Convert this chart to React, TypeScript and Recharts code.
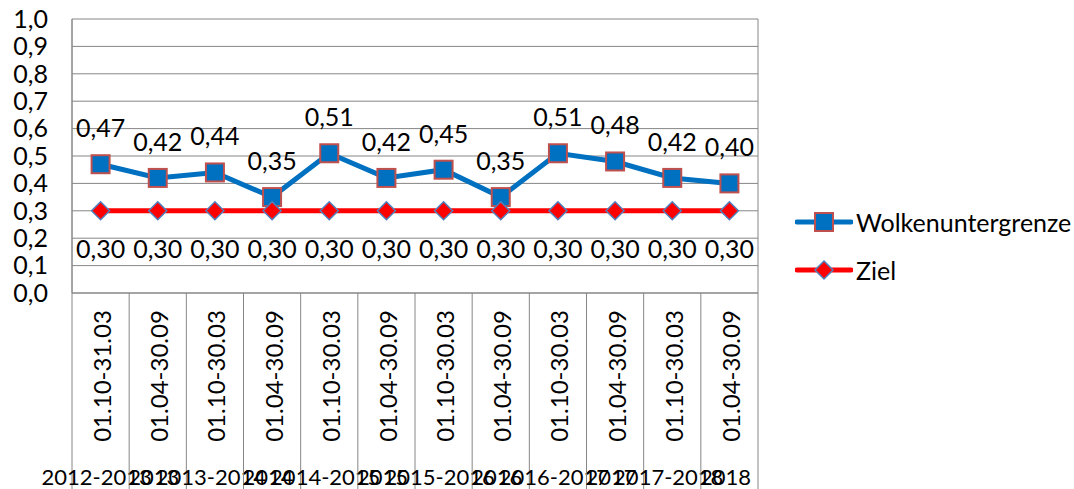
import React from 'react';
import { LineChart, Line, XAxis, YAxis, CartesianGrid, Legend, LabelList } from 'recharts';

const CATEGORIES = [
  '01.10-31.03', '01.04-30.09', '01.10-30.03', '01.04-30.09', '01.10-30.03', '01.04-30.09',
  '01.10-30.03', '01.04-30.09', '01.10-30.03', '01.04-30.09', '01.10-30.03', '01.04-30.09',
];
const SEASONS = [
  '2012-2013', '2013', '2013-2014', '2014', '2014-2015', '2015',
  '2015-2016', '2016', '2016-2017', '2017', '2017-2018', '2018',
];
const WOLKEN = [0.47, 0.42, 0.44, 0.35, 0.51, 0.42, 0.45, 0.35, 0.51, 0.48, 0.42, 0.40];
const ZIEL = [0.3, 0.3, 0.3, 0.3, 0.3, 0.3, 0.3, 0.3, 0.3, 0.3, 0.3, 0.3];
const Y_TICKS = [0, 0.1, 0.2, 0.3, 0.4, 0.5, 0.6, 0.7, 0.8, 0.9, 1.0];

const W = 1074;
const H = 489;
const MARGIN = { top: 19, right: 316, left: 0, bottom: 0 };
const Y_W = 72;
const X_H = 196;
const BAND = (W - MARGIN.right - Y_W) / CATEGORIES.length;
const GRID = '#868686';
const BLUE = '#0070C0';
const RED = '#FF0000';
const FONT = 'Lato, "Open Sans", sans-serif';

const data = CATEGORIES.map((c, i) => ({
  name: c,
  season: SEASONS[i],
  wolken: WOLKEN[i],
  ziel: ZIEL[i],
}));

const fmt = (v: number, d: number) => v.toFixed(d).replace('.', ',');

const CategoryTick = (props: any) => {
  const { x, y, payload, index } = props;
  const left = x - BAND / 2;
  return (
    <g>
      <line x1={left} y1={y} x2={left} y2={H} stroke={GRID} strokeWidth={1} />
      {index === CATEGORIES.length - 1 && (
        <line x1={x + BAND / 2} y1={y} x2={x + BAND / 2} y2={H} stroke={GRID} strokeWidth={1} />
      )}
      <text
        transform={`translate(${x + 1},${y + 83}) rotate(-90)`}
        textAnchor="middle"
        dominantBaseline="central"
        fontSize={24}
        fill="#000"
      >
        {payload.value}
      </text>
      <text x={x - 4} y={y + 183} textAnchor="middle" dominantBaseline="central" fontSize={22} fill="#000">
        {SEASONS[index]}
      </text>
    </g>
  );
};

const SquareDot = (props: any) => {
  const { cx, cy, index } = props;
  if (cx == null || cy == null) return null;
  return <rect key={`sq-${index}`} x={cx - 9} y={cy - 9} width={18} height={18} fill={BLUE} stroke="#C0504D" strokeWidth={2} />;
};

const DiamondDot = (props: any) => {
  const { cx, cy, index } = props;
  if (cx == null || cy == null) return null;
  const r = 9;
  return (
    <polygon
      key={`dm-${index}`}
      points={`${cx},${cy - r} ${cx + r},${cy} ${cx},${cy + r} ${cx - r},${cy}`}
      fill={RED}
      stroke="#4F81BD"
      strokeWidth={1.5}
    />
  );
};

const makeLabel = (dy: number) => (props: any) => {
  const { x, y, value, index } = props;
  return (
    <text key={`lb-${dy}-${index}`} x={x} y={y + dy} textAnchor="middle" dominantBaseline="central" fontSize={25} fill="#000">
      {fmt(Number(value), 2)}
    </text>
  );
};

const renderLegend = (props: any) => {
  const { payload } = props;
  return (
    <div style={{ fontFamily: FONT, fontSize: 25, color: '#000' }}>
      {(payload || []).map((p: any) => (
        <div key={p.value} style={{ display: 'flex', alignItems: 'center', height: 48 }}>
          <svg width={58} height={24} style={{ marginRight: 3 }}>
            <line x1={2} y1={12} x2={56} y2={12} stroke={p.color} strokeWidth={5} strokeLinecap="round" />
            {p.dataKey === 'wolken' ? (
              <rect x={20} y={3} width={18} height={18} fill={BLUE} stroke="#C0504D" strokeWidth={2} />
            ) : (
              <polygon points="29,3 38,12 29,21 20,12" fill={RED} stroke="#4F81BD" strokeWidth={1.5} />
            )}
          </svg>
          <span>{p.value}</span>
        </div>
      ))}
    </div>
  );
};

export default function App() {
  return (
    <div style={{ width: W, height: H, fontFamily: FONT, background: '#fff' }}>
      <style>{`body{margin:0}`}</style>
      <LineChart width={W} height={H} data={data} margin={MARGIN}>
        <CartesianGrid
          stroke={GRID}
          strokeWidth={1}
          verticalCoordinatesGenerator={({ offset }: any) => [offset.left, offset.left + offset.width]}
        />
        <XAxis
          dataKey="name"
          height={X_H}
          interval={0}
          tickSize={0}
          tickMargin={0}
          tickLine={false}
          axisLine={{ stroke: GRID }}
          padding={{ left: BAND / 2, right: BAND / 2 }}
          tick={CategoryTick}
        />
        <YAxis
          width={Y_W}
          domain={[0, 1]}
          ticks={Y_TICKS}
          interval={0}
          tickSize={0}
          tickMargin={24}
          tickLine={false}
          axisLine={{ stroke: GRID }}
          tickFormatter={(v: number) => fmt(v, 1)}
          tick={{ fontSize: 25, fill: '#000', fontFamily: FONT }}
        />
        <Legend
          layout="vertical"
          align="center"
          verticalAlign="middle"
          wrapperStyle={{ left: 795, top: 198, width: 280 }}
          content={renderLegend}
        />
        <Line
          name="Wolkenuntergrenze"
          dataKey="wolken"
          stroke={BLUE}
          strokeWidth={5}
          dot={SquareDot}
          activeDot={false}
          isAnimationActive={false}
        >
          <LabelList dataKey="wolken" content={makeLabel(-37)} />
        </Line>
        <Line
          name="Ziel"
          dataKey="ziel"
          stroke={RED}
          strokeWidth={5}
          dot={DiamondDot}
          activeDot={false}
          isAnimationActive={false}
        >
          <LabelList dataKey="ziel" content={makeLabel(37)} />
        </Line>
      </LineChart>
    </div>
  );
}
